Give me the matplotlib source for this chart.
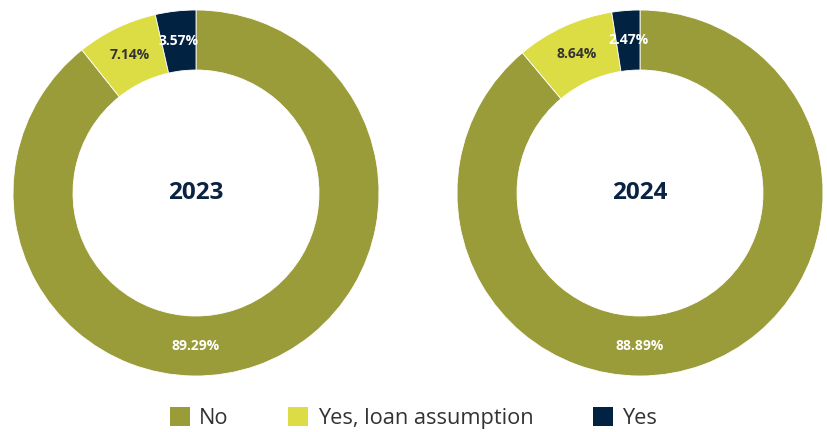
import numpy as np
import matplotlib.pyplot as plt
from matplotlib.patches import Patch

plt.rcParams['font.family'] = ['Open Sans', 'DejaVu Sans']

years = ['2023', '2024']
categories = ['No', 'Yes, loan assumption', 'Yes']
shares = {
    '2023': [89.29, 7.14, 3.57],
    '2024': [88.89, 8.64, 2.47],
}
colors = ['#9a9b39', '#dcdc45', '#012240']
label_colors = ['white', '#333333', 'white']

W, H = 827, 432
fig = plt.figure(figsize=(W / 100, H / 100), dpi=100)

# donut centres and radius in pixels
centres = [(196, 193), (640, 193)]
R = 183
ring = 60 / R
mid_r = 1 - ring / 2

for year, (cx, cy) in zip(years, centres):
    ax = fig.add_axes([(cx - R) / W, (H - cy - R) / H, 2 * R / W, 2 * R / H])
    vals = shares[year]
    wedges, _ = ax.pie(
        vals, colors=colors, startangle=90, counterclock=False, radius=1,
        wedgeprops=dict(width=ring, edgecolor='white', linewidth=0.6),
    )
    # percentage labels: big slice at the bottom, small ones mid-wedge
    for i, (w, v) in enumerate(zip(wedges, vals)):
        ang = 270 if i == 0 else (w.theta1 + w.theta2) / 2
        x = mid_r * np.cos(np.radians(ang))
        y = mid_r * np.sin(np.radians(ang))
        ax.text(x, y, f'{v:.2f}%', ha='center', va='center', fontsize=10,
                fontweight='bold', color=label_colors[i])
    ax.text(0, 0, year, ha='center', va='center', fontsize=17.5,
            fontweight='bold', color='#0a2342')
    ax.set_xlim(-1, 1)
    ax.set_ylim(-1, 1)
    ax.set_aspect('equal')
    ax.axis('off')

handles = [Patch(facecolor=c, edgecolor='none') for c in colors]
fig.legend(handles, categories, loc='center', bbox_to_anchor=(0.5, 1 - 418 / H),
           ncol=3, frameon=False, fontsize=15.7, labelcolor='#333333',
           handlelength=0.92, handleheight=0.92, handletextpad=0.42,
           columnspacing=2.73)

fig.savefig('out.png', dpi=100)
